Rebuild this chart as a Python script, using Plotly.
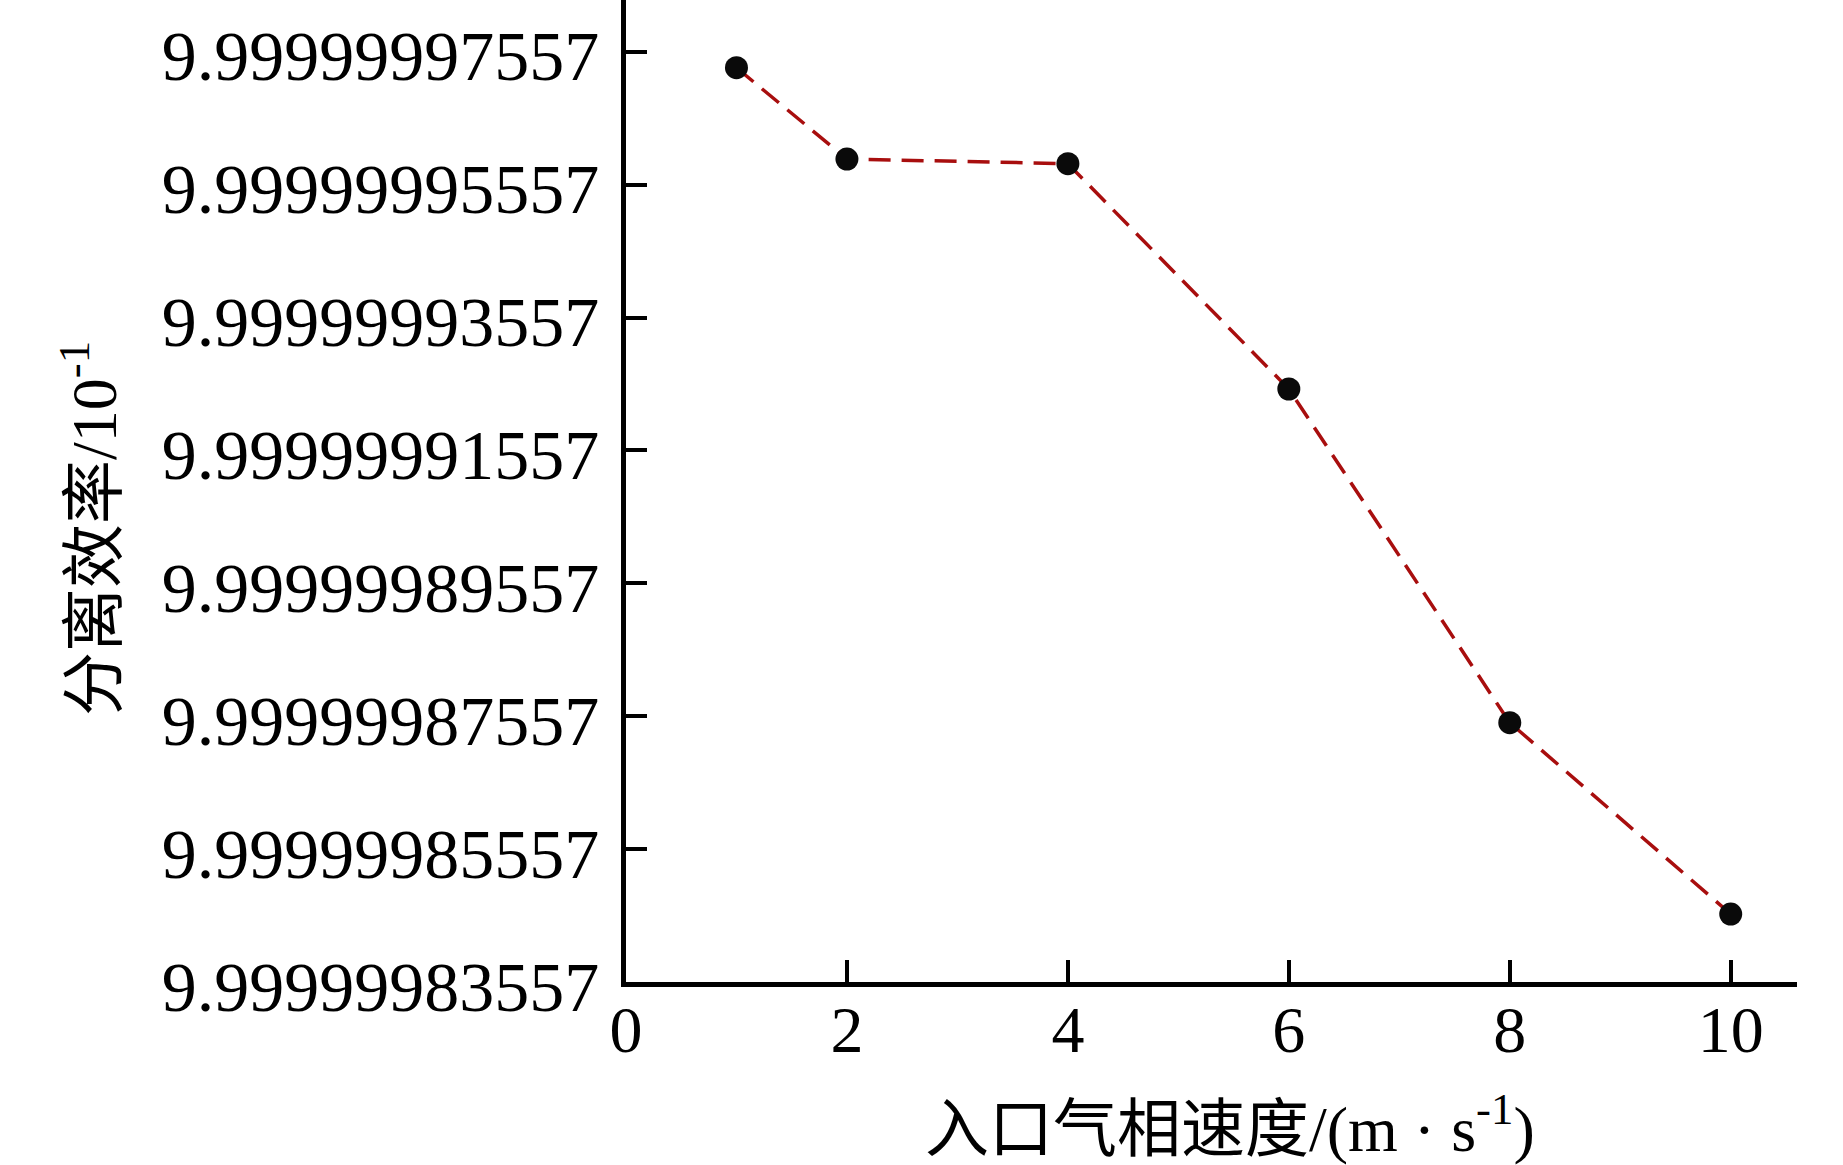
import plotly.graph_objects as go

# ---- data ----
inlet_velocity = [1, 2, 4, 6, 8, 10]
separation_eff = [9.99999997316, 9.99999995942, 9.99999995872,
                  9.99999992481, 9.99999987459, 9.99999984580]

y_tick_vals = [9.99999983557, 9.99999985557, 9.99999987557, 9.99999989557,
               9.99999991557, 9.99999993557, 9.99999995557, 9.99999997557]
y_tick_text = ["9.99999983557", "9.99999985557", "9.99999987557", "9.99999989557",
               "9.99999991557", "9.99999993557", "9.99999995557", "9.99999997557"]
x_tick_vals = [0, 2, 4, 6, 8, 10]
x_tick_text = ["0", "2", "4", "6", "8", "10"]

x_title = "入口气相速度/(m · s<sup>-1</sup>)"
y_title = "分离效率/10<sup>-1</sup>"

W, H = 1843, 1165
L, R, T, B = 626, 46, 0, 183

FONT = "Liberation Serif, Times New Roman, Noto Sans CJK SC, serif"

fig = go.Figure()
fig.add_trace(go.Scatter(
    x=inlet_velocity, y=separation_eff,
    mode="lines+markers",
    line=dict(color="#A80E0E", width=3.5, dash="22px,11px"),
    marker=dict(color="#0a0a0a", size=23),
    showlegend=False,
))

fig.update_layout(
    width=W, height=H, autosize=False,
    margin=dict(l=L, r=R, t=T, b=B, pad=0),
    paper_bgcolor="white", plot_bgcolor="white",
    font=dict(family=FONT, color="black"),
    xaxis=dict(
        range=[0, 10.6], tickmode="array", tickvals=x_tick_vals, ticktext=x_tick_text,
        ticks="inside", ticklen=22, tickwidth=3.5, tickcolor="black",
        showline=True, linecolor="black", linewidth=4.5,
        showgrid=False, zeroline=False,
        tickfont=dict(family=FONT, size=66, color="black"),
        ticklabelstandoff=-14,
    ),
    yaxis=dict(
        range=[9.99999983557, 9.999999983350], tickmode="array",
        tickvals=y_tick_vals, ticktext=y_tick_text,
        ticks="inside", ticklen=21, tickwidth=4, tickcolor="black",
        showline=True, linecolor="black", linewidth=4.5,
        showgrid=False, zeroline=False,
        tickfont=dict(family=FONT, size=70, color="black"),
        ticklabelstandoff=8,
        ticklabelshift=4,
    ),
    annotations=[
        dict(text=y_title, xref="paper", yref="paper",
             x=(89 - L) / (W - L - R), y=1 - 529 / (H - B),
             xanchor="center", yanchor="middle", textangle=-90, showarrow=False,
             font=dict(family=FONT, size=64, color="black")),
        dict(text=x_title, xref="paper", yref="paper",
             x=(1230 - L) / (W - L - R), y=(H - B - 1124) / (H - B),
             xanchor="center", yanchor="middle", showarrow=False,
             font=dict(family=FONT, size=64, color="black")),
    ],
)

fig.write_html("out.html", config={"displayModeBar": False},
               post_script="document.body.style.margin='0';document.body.style.overflow='hidden';")
